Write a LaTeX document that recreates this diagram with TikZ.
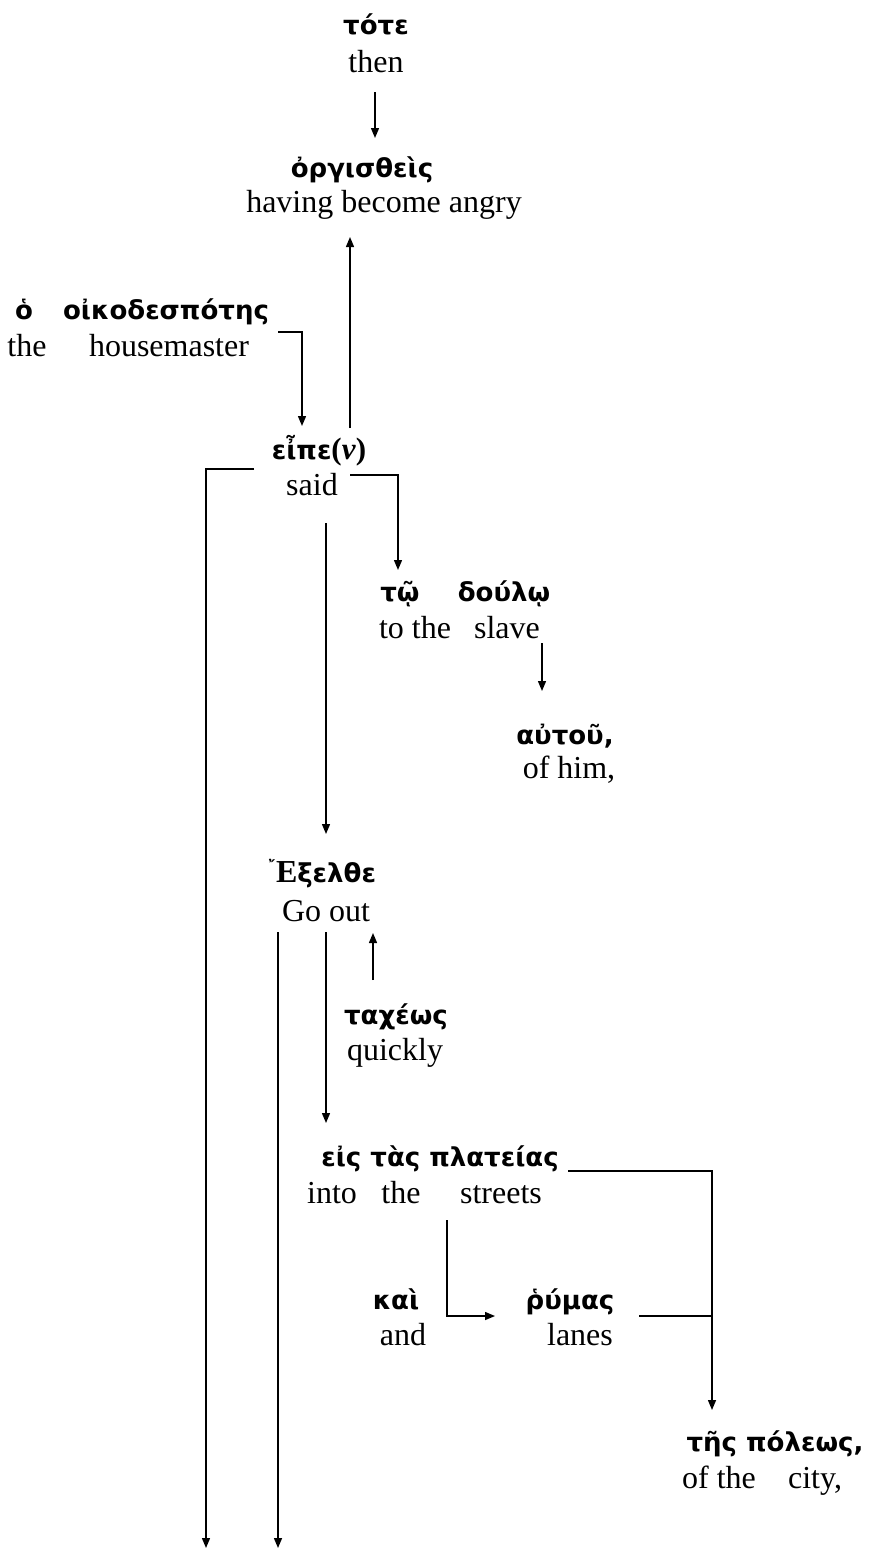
\documentclass[tikz,border=0pt]{standalone}
\usepackage{fontspec}
\setmainfont{Liberation Serif}
\newfontfamily\grk{DejaVu Sans}
\newfontfamily\grks{DejaVu Serif}
\usetikzlibrary{arrows.meta}
\begin{document}
\begin{tikzpicture}[x=1pt,y=-1pt,
  en/.style={font=\fontsize{32}{36}\selectfont, inner sep=0pt, anchor=base},
  gr/.style={font=\grk\bfseries\fontsize{26}{30}\selectfont, inner sep=0pt, anchor=base},
  ln/.style={line width=1.4pt},
  arr/.style={ln,-{Triangle[length=10pt,width=8pt]}}]
\useasboundingbox[fill=white] (0,0) rectangle (869,1551);

% Greek words
\node[gr] (tote) at (376,34) {τότε};
\node[gr] (orgis) at (362,177) {ὀργισθεὶς};
\node[gr] (ho) at (24,319) {ὁ};
\node[gr] (oikod) at (166,319) {οἰκοδεσπότης};
\node[gr] (eipe) at (319,459) {εἶπε{\rmfamily\fontsize{31}{31}\selectfont(\textbf{\textit{ν}})}};
\node[gr] (tw) at (400,601) {τῷ};
\node[gr] (doulw) at (504,601) {δούλῳ};
\node[gr] (autou) at (565,744) {αὐτοῦ,};
\node[gr] (exelthe) at (322,882) {{\grks\fontsize{16}{16}\selectfont\raisebox{10pt}{῎}}{\rmfamily\bfseries\fontsize{32}{32}\selectfont Ε}ξελθε};
\node[gr] (tacheos) at (396,1024) {ταχέως};
\node[gr] (eis) at (440,1166) {εἰς τὰς πλατείας};
\node[gr] (kai) at (396,1309) {καὶ};
\node[gr] (rhumas) at (570,1309) {ῥύμας};
\node[gr] (tes) at (775,1451) {τῆς πόλεως,};

% English glosses
\node[en] (then) at (376,72) {then};
\node[en] (having) at (384,212) {having become angry};
\node[en] (the1) at (27,356) {the};
\node[en] (housemaster) at (169,356) {housemaster};
\node[en] (said) at (312,495) {said};
\node[en] (tothe) at (415,638) {to the};
\node[en] (slave) at (507,638) {slave};
\node[en] (ofhim) at (569,778) {of him,};
\node[en] (goout) at (326,921) {Go out};
\node[en] (quickly) at (395,1060) {quickly};
\node[en] (into) at (332,1203) {into};
\node[en] (the2) at (401,1203) {the};
\node[en] (streets) at (501,1203) {streets};
\node[en] (and) at (403,1345) {and};
\node[en] (lanes) at (580,1345) {lanes};
\node[en] (ofthe) at (719,1488) {of the};
\node[en] (city) at (815,1488) {city,};

% connector end points
\coordinate (c1a) at (375,92);   \coordinate (c1b) at (375,138);
\coordinate (c2a) at (350,428);  \coordinate (c2b) at (350,237);
\coordinate (c3a) at (278,332);  \coordinate (c3b) at (302,426);
\coordinate (c4a) at (254,469);  \coordinate (c4b) at (206,1548);
\coordinate (c5a) at (350,475);  \coordinate (c5b) at (398,570);
\coordinate (c6a) at (326,523);  \coordinate (c6b) at (326,834);
\coordinate (c7a) at (542,643);  \coordinate (c7b) at (542,691);
\coordinate (c8a) at (278,932);  \coordinate (c8b) at (278,1548);
\coordinate (c9a) at (326,932);  \coordinate (c9b) at (326,1123);
\coordinate (c10a) at (373,980); \coordinate (c10b) at (373,933);
\coordinate (c11a) at (568,1171); \coordinate (c11b) at (712,1410);
\coordinate (c12a) at (447,1220); \coordinate (c12b) at (495,1316);
\coordinate (c13a) at (639,1316); \coordinate (c13b) at (712,1316);

\draw[arr] (c1a) -- (c1b);
\draw[arr] (c2a) -- (c2b);
\draw[arr] (c3a) -| (c3b);
\draw[arr] (c4a) -| (c4b);
\draw[arr] (c5a) -| (c5b);
\draw[arr] (c6a) -- (c6b);
\draw[arr] (c7a) -- (c7b);
\draw[arr] (c8a) -- (c8b);
\draw[arr] (c9a) -- (c9b);
\draw[arr] (c10a) -- (c10b);
\draw[arr] (c11a) -| (c11b);
\draw[arr] (c12a) |- (c12b);
\draw[ln] (c13a) -- (c13b);
\end{tikzpicture}
\end{document}
